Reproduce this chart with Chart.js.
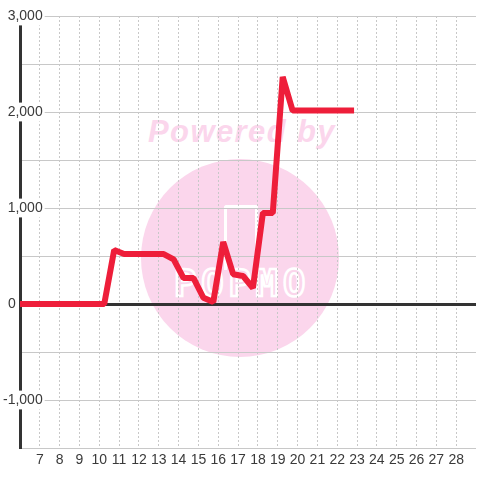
<!DOCTYPE html>
<html>
<head>
<meta charset="utf-8">
<script src="https://cdn.jsdelivr.net/npm/chart.js@4"></script>
<style>
  html, body { margin: 0; padding: 0; background: #fff; }
  #wrap { position: relative; width: 480px; height: 480px; overflow: hidden; }
  #chart { position: absolute; left: 0; top: 0; z-index: 2; }
  .mark { position: absolute; z-index: 1; }
  #circle { left: 141px; top: 159px; width: 198px; height: 198px; border-radius: 50%; background: #fbd6ec; }
  #powered { left: 148px; top: 114px; font: italic bold 31px "Liberation Sans", Arial, sans-serif; letter-spacing: 1.4px; color: #fbd6ec; white-space: nowrap; }
  #logo { left: 174px; top: 262px; font: bold 37px "DejaVu Sans Mono", monospace; letter-spacing: 5px; color: transparent; -webkit-text-stroke: 2.5px #fff; white-space: nowrap; }
  #bottle { left: 224px; top: 205px; width: 28px; height: 62px; border: 3px solid #fff; border-bottom: none; border-radius: 3px 3px 0 0; }
</style>
</head>
<body>
<div id="wrap">
  <div class="mark" id="circle"></div>
  <div class="mark" id="powered">Powered by</div>
  <div class="mark" id="bottle"></div>
  <div class="mark" id="logo">POPMO</div>
  <canvas id="chart" width="480" height="480"></canvas>
</div>
<script>
// Time of day (x) and values
const TIMES = [5.75, 6.25, 6.75, 7.25, 7.75, 8.25, 8.75, 9.25, 9.75, 10.25,
  10.75, 11.25, 11.75, 12.25, 12.75, 13.25, 13.75, 14.25, 14.75, 15.25,
  15.75, 16.25, 16.75, 17.25, 17.75, 18.25, 18.75, 19.25, 19.75, 20.25,
  20.75, 21.25, 21.75, 22.25, 22.85];
const VALUES = [0, 0, 0, 0, 0, 0, 0, 0, 0, 0,
  562, 520, 520, 520, 520, 520, 465, 270, 270, 65,
  20, 646, 310, 292, 167, 948, 948, 2365, 2015, 2015,
  2015, 2015, 2015, 2015, 2015];

// Axis ranges and visible tick labels
const X_MIN = 6, X_MAX = 29;
const X_LABELS = [7, 8, 9, 10, 11, 12, 13, 14, 15, 16, 17, 18, 19, 20, 21, 22, 23, 24, 25, 26, 27, 28];
const Y_MIN = -1500, Y_MAX = 3000;
const Y_LABELS = [-1000, 1000, 2000, 3000];

const TEXT = "#3a3a3a";
const FONT = { family: "'Liberation Sans', Arial, sans-serif", size: 14 };

const ctx = document.getElementById("chart").getContext("2d");

new Chart(ctx, {
  type: "line",
  data: {
    datasets: [
      {
        data: TIMES.map((t, i) => ({ x: t, y: VALUES[i] })),
        borderColor: "#ee1e3a",
        borderWidth: 6,
        borderJoinStyle: "bevel",
        tension: 0,
        pointRadius: 0,
        fill: false,
        yAxisID: "y",
      },
    ],
  },
  options: {
    responsive: false,
    animation: false,
    events: [],
    layout: { padding: { top: 16, right: 0, bottom: 0, left: 0 } },
    plugins: {
      legend: { display: false },
      tooltip: { enabled: false },
    },
    scales: {
      x: {
        type: "linear",
        min: X_MIN,
        max: X_MAX,
        afterFit: (s) => { s.height = 32; },
        ticks: {
          stepSize: 1,
          autoSkip: false,
          maxRotation: 0,
          padding: 4,
          color: TEXT,
          font: FONT,
          callback: (v) => (X_LABELS.includes(v) ? String(v) : ""),
        },
        grid: {
          drawTicks: false,
          color: (c) => (X_LABELS.includes(c.tick.value) ? "#c8c8c8" : "rgba(0,0,0,0)"),
        },
        border: { display: false, dash: [2, 2] },
      },
      // labels sit over the axis line on a white box, right-aligned
      y: {
        min: Y_MIN,
        max: Y_MAX,
        weight: 1,
        afterFit: (s) => { s.width = 20; },
        ticks: {
          stepSize: 500,
          mirror: true,
          crossAlign: "far",
          padding: -17,
          color: TEXT,
          font: FONT,
          showLabelBackdrop: true,
          backdropPadding: { x: 2, y: 1 },
          backdropColor: (c) => (Y_LABELS.includes(c.tick.value) ? "#fff" : "rgba(0,0,0,0)"),
          callback: (v) => (Y_LABELS.includes(v) ? v.toLocaleString("en-US") : ""),
        },
        grid: {
          drawTicks: false,
          color: (c) => (c.tick.value === 0 ? "#333" : "#c8c8c8"),
          lineWidth: (c) => (c.tick.value === 0 ? 3 : 1),
        },
        border: { display: true, color: "#333", width: 3 },
      },
      // second axis only carries the "0" label, left of the axis line
      y0: {
        position: "left",
        min: Y_MIN,
        max: Y_MAX,
        weight: 0,
        afterFit: (s) => { s.width = 0; },
        ticks: {
          stepSize: 500,
          mirror: true,
          crossAlign: "near",
          padding: -12,
          color: TEXT,
          font: FONT,
          callback: (v) => (v === 0 ? "0" : ""),
        },
        grid: { display: false, drawTicks: false },
        border: { display: false },
      },
    },
  },
});
</script>
</body>
</html>
